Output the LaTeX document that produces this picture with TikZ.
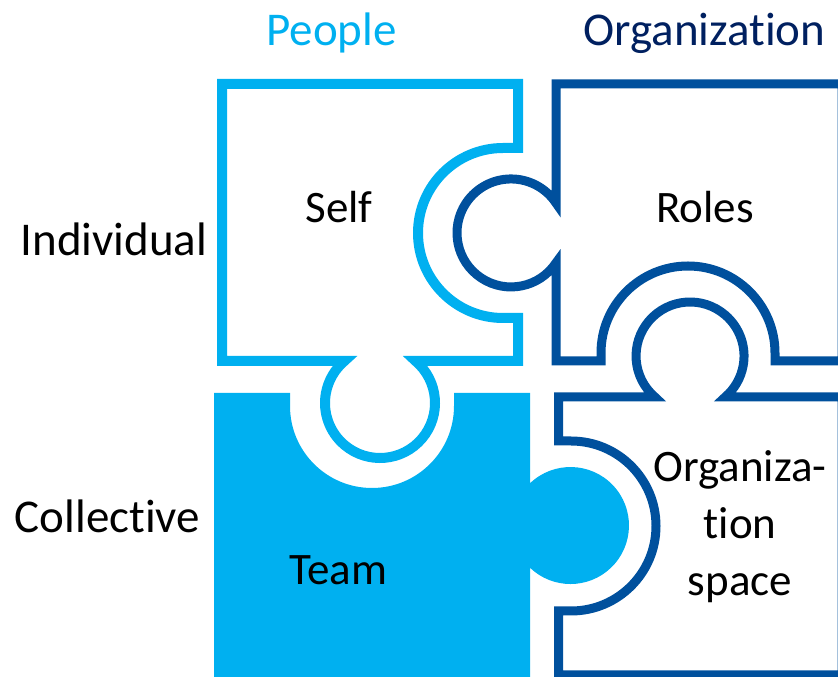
\documentclass[tikz,border=0pt]{standalone}
\usepackage{fontspec}
\setmainfont{Carlito}[Ligatures=NoCommon]
\definecolor{peopleblue}{HTML}{00B0F0}
\definecolor{orgblue}{HTML}{00509D}
\definecolor{orgnavy}{HTML}{002060}
\tikzset{
  peoplepiece/.style={draw=peopleblue, line width=10pt},
  orgpiece/.style={draw=orgblue, line width=9pt},
  teampiece/.style={fill=peopleblue},
  headlabel/.style={anchor=base, font=\fontsize{47}{56}\selectfont},
  piecelabel/.style={anchor=base, font=\fontsize{45}{57}\selectfont, align=center},
}
\begin{document}
\begin{tikzpicture}[x=1pt, y=1pt]
% Frame in pixel units, origin at bottom left
\useasboundingbox (0,0) rectangle (838,677);
\clip (0,0) rectangle (838,677);

% Self: socket on the right, knob at the bottom
\draw[peoplepiece] (222,593) -- (518,593) -- (518,529) -- (503,529)
  arc[start angle=90, end angle=270, radius=85] -- (518,359) -- (518,316)
  -- (415.5,316) arc[start angle=49.8, end angle=-229.8, radius=55] -- (222,316) -- cycle;

% Roles: socket at the bottom, knob on the left
\draw[orgpiece] (556,593) -- (842,593) -- (842,316) -- (775,316) -- (775,324)
  arc[start angle=0, end angle=180, radius=87] -- (601,316) -- (556,316)
  -- (556,414.2) arc[start angle=-33.56, end angle=-326.44, radius=54] -- cycle;

% Team: socket on top, knob on the right
\fill[teampiece] (214,284) -- (290,284) -- (290,271)
  arc[start angle=180, end angle=360, radius=82] -- (454,284) -- (530,284)
  -- (530,193.7) arc[start angle=133.8, end angle=-133.8, radius=58.5]
  -- (530,-20) -- (214,-20) -- cycle;

% Organization space: knob on top, socket on the left
\draw[orgpiece] (558.5,280) -- (654.9,280)
  arc[start angle=229.4, end angle=-49.4, radius=54] -- (842,280) -- (842,2)
  -- (558.5,2) -- (558.5,66) -- (571,66)
  arc[start angle=-90, end angle=90, radius=85] -- (558.5,236) -- cycle;

% Column and row heads
\node[headlabel, text=peopleblue] (people) at (331.5,631) {People};
\node[headlabel, text=orgnavy] (organization) at (704.5,631) {Organization};
\node[headlabel] (individual) at (114,421) {Individual};
\node[headlabel] (collective) at (107.5,144) {Collective};

% Piece names (base of a multi-line node is its last line)
\node[piecelabel] (self) at (339,454) {Self};
\node[piecelabel] (roles) at (705,454) {Roles};
\node[piecelabel] (team) at (338.5,92) {Team};
\node[piecelabel] (orgspace) at (740,81) {Organiza-\\tion\\space};
\end{tikzpicture}
\end{document}
